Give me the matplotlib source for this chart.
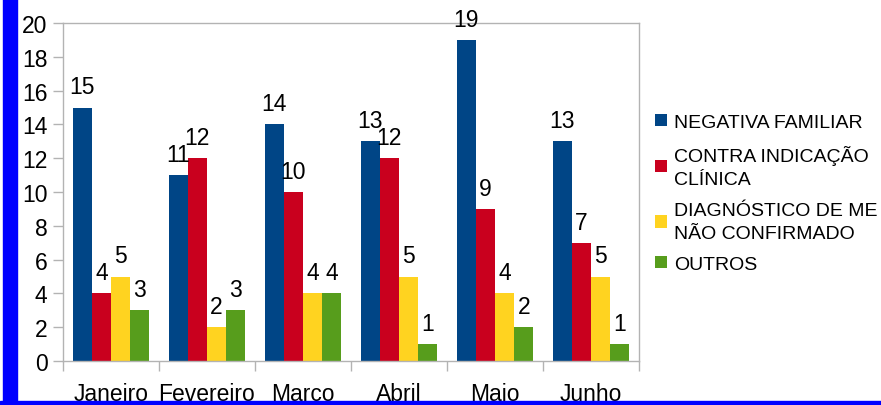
import matplotlib
matplotlib.use('Agg')
import matplotlib.pyplot as plt
import numpy as np
from matplotlib.patches import Rectangle

plt.rcParams['font.family'] = ['Liberation Sans', 'DejaVu Sans']

# data
months = ['Janeiro', 'Fevereiro', 'Março', 'Abril', 'Maio', 'Junho']
series_names = ['NEGATIVA FAMILIAR', 'CONTRA INDICAÇÃO\nCLÍNICA',
                'DIAGNÓSTICO DE ME\nNÃO CONFIRMADO', 'OUTROS']
negativa = [15, 11, 14, 13, 19, 13]
contra = [4, 12, 10, 12, 9, 7]
diagnostico = [5, 2, 4, 5, 4, 5]
outros = [3, 3, 4, 1, 2, 1]
colors = ['#004586', '#c9001e', '#ffd320', '#579d1c']

W, H = 881, 406
fig = plt.figure(figsize=(W / 100, H / 100), dpi=100)
ax = fig.add_axes([63 / W, (H - 362) / H, (639 - 63) / W, (362 - 24) / H])

x = np.arange(len(months))
bw = 0.2
all_series = [negativa, contra, diagnostico, outros]
handles = []
for i, vals in enumerate(all_series):
    pos = x - 0.3 + i * bw
    b = ax.bar(pos, vals, width=bw, color=colors[i], label=series_names[i])
    handles.append(b)
    for px, v in zip(pos, vals):
        ax.annotate(str(v), (px, v), xytext=(0, 6.5), textcoords='offset points',
                    ha='center', va='bottom', fontsize=16.5)

ax.set_xlim(-0.5, len(months) - 0.5)
ax.set_ylim(0, 20)
ax.set_yticks(range(0, 21, 2))
ax.set_xticks(x)
ax.set_xticklabels(months, fontsize=16.5)
ax.set_xticks(np.arange(-0.5, len(months)), minor=True)
ax.tick_params(axis='x', which='major', length=0, pad=15)
ax.tick_params(axis='x', which='minor', length=7.2, color='#b3b3b3', width=1)
ax.tick_params(axis='y', length=7.2, color='#b3b3b3', width=1, labelsize=16.5, pad=4)
for s in ax.spines.values():
    s.set_color('#b3b3b3')
    s.set_linewidth(1)

leg = fig.legend(handles=handles, loc='upper left',
                 bbox_to_anchor=(655 / W, (H - 115) / H),
                 frameon=False, fontsize=14, handlelength=0.6, handleheight=0.6,
                 handletextpad=0.4, labelspacing=0.7, borderaxespad=0, borderpad=0)
for t in leg.get_texts():
    t.set_linespacing(1.5)

# blue frame pieces on the left and bottom
fig.patches.append(Rectangle((3 / W, 0), 14 / W, 1, transform=fig.transFigure,
                             color='#0000ff', zorder=10))
fig.patches.append(Rectangle((0, 0), 1, 4.5 / H, transform=fig.transFigure,
                             color='#0000ff', zorder=10))

fig.savefig('out.png', dpi=100)
